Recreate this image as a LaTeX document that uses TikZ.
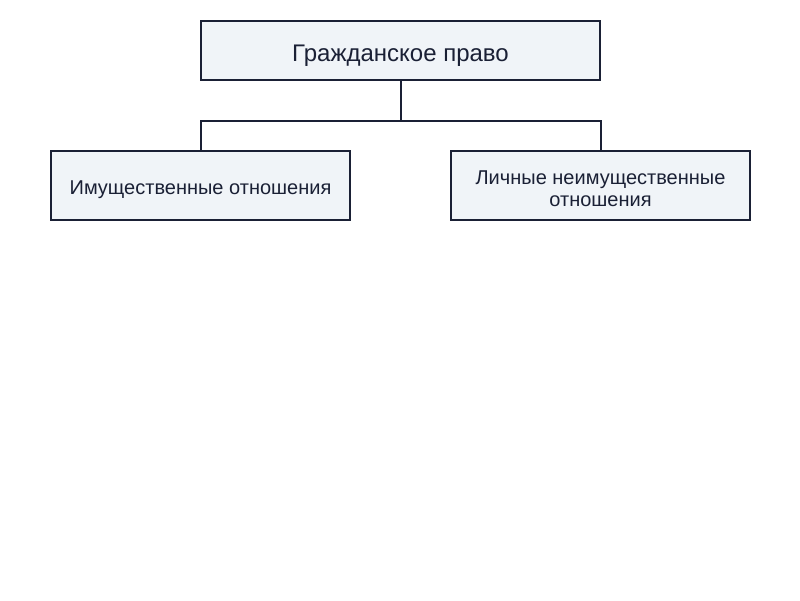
\documentclass[tikz,border=0pt]{standalone}
\usepackage{fontspec}
\setmainfont{Liberation Sans}
\definecolor{boxfill}{HTML}{F0F4F8}
\definecolor{boxline}{HTML}{1A2035}
\begin{document}
\begin{tikzpicture}[x=1pt,y=-1pt,
  box/.style={draw=boxline,fill=boxfill,line width=2pt,inner sep=0pt},
  lbl/.style={inner sep=0pt,align=center,text=boxline},
  conn/.style={draw=boxline,line width=2pt}]
\useasboundingbox (0,0) rectangle (800,600);
\node[box,minimum width=399pt,minimum height=59pt] (root) at (400.5,50.5) {};
\node[box,minimum width=299pt,minimum height=69pt] (left) at (200.5,185.5) {};
\node[box,minimum width=299pt,minimum height=69pt] (right) at (600.5,185.5) {};
\node[lbl,font=\fontsize{24}{28}\selectfont] (roottext) at ([yshift=-5pt]root.center) {Гражданское право};
\node[lbl,font=\fontsize{20}{22}\selectfont] (lefttext) at ([yshift=-4pt]left.center) {Имущественные отношения};
\node[lbl,font=\fontsize{20}{22}\selectfont] (righttext) at ([yshift=-3pt]right.center) {Личные неимущественные\\отношения};
\coordinate (mid) at (400.5,121);
\draw[conn] (root.south) -- (mid);
\draw[conn] (left.north) |- (mid) -| (right.north);
\end{tikzpicture}
\end{document}
